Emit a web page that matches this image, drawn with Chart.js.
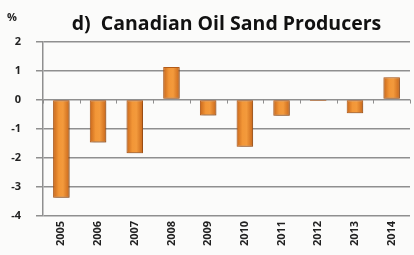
<!DOCTYPE html>
<html>
<head>
<meta charset="utf-8">
<script src="https://cdn.jsdelivr.net/npm/chart.js@4.4.1/dist/chart.umd.min.js"></script>
<style>
  html, body { margin: 0; padding: 0; background: #fbfbfa; }
  #wrap { width: 414px; height: 255px; }
</style>
</head>
<body>
<div id="wrap"><canvas id="chart" width="414" height="255"></canvas></div>
<script>
const years = ["2005", "2006", "2007", "2008", "2009", "2010", "2011", "2012", "2013", "2014"];
const changes = [-3.38, -1.48, -1.85, 1.12, -0.55, -1.62, -0.56, -0.05, -0.47, 0.77];
const yTicks = [2, 1, 0, -1, -2, -3, -4];

const fontFam = "'Open Sans', 'DejaVu Sans', sans-serif";
const barPct = 0.45;

// horizontal shading across each bar, placed from the x scale
function barFill(context) {
  const chart = context.chart;
  const x = chart.scales.x;
  if (!chart.chartArea || !x) return "#ea8a2e";
  const cx = x.getPixelForValue(context.dataIndex);
  const half = (x.width / years.length) * barPct / 2;
  const g = chart.ctx.createLinearGradient(cx - half, 0, cx + half, 0);
  g.addColorStop(0, "#c8661a");
  g.addColorStop(0.35, "#f29637");
  g.addColorStop(0.6, "#f39a3c");
  g.addColorStop(1, "#c8661a");
  return g;
}

// small tick marks along the zero line, plus the "%" unit label
const extrasPlugin = {
  id: "extras",
  afterDraw(chart) {
    const { ctx, scales } = chart;
    const x = scales.x, y = scales.y;
    const y0 = y.getPixelForValue(0);
    ctx.save();
    ctx.strokeStyle = "#8f8f8f";
    ctx.lineWidth = 1;
    for (let i = 0; i <= years.length; i++) {
      const px = Math.round(x.left + (x.width / years.length) * i) + 0.5;
      ctx.beginPath();
      ctx.moveTo(px, y0);
      ctx.lineTo(px, y0 + 4);
      ctx.stroke();
    }
    ctx.fillStyle = "#222";
    ctx.font = "bold 11px " + fontFam;
    ctx.textAlign = "center";
    ctx.fillText("%", 12, 21);
    ctx.restore();
  },
};

const barShadow = {
  id: "barShadow",
  beforeDatasetsDraw(chart) {
    const ctx = chart.ctx;
    ctx.save();
    ctx.shadowColor = "rgba(0,0,0,0.35)";
    ctx.shadowBlur = 3;
    ctx.shadowOffsetX = 1;
    ctx.shadowOffsetY = 1;
  },
  afterDatasetsDraw(chart) {
    chart.ctx.restore();
  },
};

new Chart(document.getElementById("chart"), {
  type: "bar",
  data: {
    labels: years,
    datasets: [{
      data: changes,
      backgroundColor: barFill,
      borderColor: "#b85d18",
      borderWidth: 1,
      borderSkipped: false,
      categoryPercentage: 1,
      barPercentage: barPct,
    }],
  },
  options: {
    responsive: false,
    animation: false,
    layout: { padding: { top: 0, right: 4, left: 0, bottom: 4 } },
    plugins: {
      legend: { display: false },
      tooltip: { enabled: false },
      title: {
        display: true,
        text: "d)  Canadian Oil Sand Producers",
        fullSize: false,
        color: "#111",
        font: { family: fontFam, size: 19.5, weight: "bold" },
        padding: { top: 13, bottom: 5 },
      },
    },
    scales: {
      x: {
        grid: { display: false, drawTicks: false },
        border: { display: false },
        ticks: {
          color: "#222",
          font: { family: fontFam, size: 11, weight: "bold" },
          minRotation: 90,
          maxRotation: 90,
          padding: 5,
        },
      },
      y: {
        min: -4,
        max: 2,
        afterBuildTicks(scale) {
          scale.ticks = yTicks.map(v => ({ value: v }));
        },
        afterFit(scale) { scale.width = 43; },
        grid: { color: "#8f8f8f", lineWidth: 1.5, tickLength: 7 },
        border: { color: "#8f8f8f", width: 1.5 },
        ticks: {
          color: "#222",
          font: { family: fontFam, size: 11, weight: "bold" },
          padding: 15,
        },
      },
    },
  },
  plugins: [barShadow, extrasPlugin],
});
</script>
</body>
</html>
